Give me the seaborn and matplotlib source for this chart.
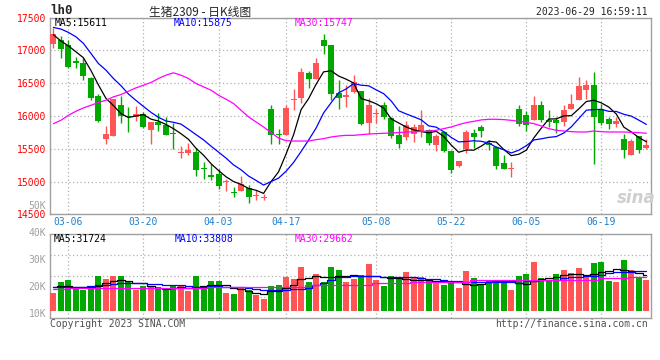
"""
生猪2309 日K线图 (新浪财经样式) 复刻
"""

import numpy as np
import pandas as pd
import matplotlib
matplotlib.use('Agg')
import matplotlib.pyplot as plt
import seaborn as sns


# ---- 数据 ----
HOLIDAYS = ['2023-04-05', '2023-05-01', '2023-05-02', '2023-05-03', '2023-06-22', '2023-06-23']
trade_days = [d for d in pd.bdate_range('2023-03-02', '2023-06-29') if d.strftime('%Y-%m-%d') not in HOLIDAYS]
date_labels = [d.strftime('%m-%d') for d in trade_days]
TICK_DATES = ['03-06', '03-20', '04-03', '04-17', '05-08', '05-22', '06-05', '06-19']

open_price = [17092, 17164, 17082, 16837, 16812, 16582, 16302, 15654, 15695, 16164,
              15996, 15980, 16037, 15782, 15909, 15868, 15746, 15439, 15430, 15450,
              15205, 15093, 15118, 14991, 14838, 14854, 14904, 14772, 14752, 16103,
              15730, 15705, 16241, 16276, 16659, 16572, 17159, 17082, 16353, 16292,
              16368, 16378, 15894, 16037, 16164, 15970, 15715, 15680, 15730, 15756,
              15782, 15552, 15756, 15460, 15231, 15501, 15746, 15827, 15588, 15527,
              15277, 15195, 16103, 16011, 15935, 16174, 15945, 15935, 15909, 16103,
              16241, 16394, 16470, 16113, 15950, 15873, 15654, 15399, 15690, 15511]
close_price = [17250, 17021, 16751, 16812, 16613, 16276, 15919, 15731, 16256, 16001,
               15980, 16037, 15833, 15909, 15858, 15715, 15720, 15449, 15476, 15180,
               15185, 15073, 14925, 15001, 14818, 14966, 14762, 14787, 14762, 15715,
               15715, 16123, 16256, 16674, 16557, 16812, 17072, 16332, 16276, 16317,
               16521, 15883, 16164, 16052, 15985, 15695, 15572, 15858, 15833, 15858,
               15588, 15695, 15465, 15180, 15307, 15756, 15680, 15776, 15562, 15236,
               15190, 15210, 15884, 15868, 16174, 15935, 15909, 15894, 16098, 16190,
               16455, 16470, 15985, 15899, 15873, 15919, 15476, 15613, 15476, 15552]
high_price = [17337, 17225, 17159, 16903, 16878, 16598, 16343, 15843, 16266, 16307,
              16138, 16154, 16062, 15909, 16052, 15985, 15899, 15542, 15593, 15511,
              15297, 15272, 15185, 15042, 14915, 15078, 14940, 14864, 14813, 16174,
              15807, 16174, 16419, 16735, 16684, 16878, 17250, 17082, 16547, 16470,
              16633, 16378, 16276, 16113, 16215, 15985, 15848, 15919, 15883, 16088,
              15807, 15730, 15771, 15460, 15307, 15782, 15807, 15858, 15629, 15542,
              15399, 15297, 16164, 16077, 16302, 16225, 16098, 15985, 16174, 16343,
              16598, 16547, 16664, 16190, 15985, 15985, 15731, 15654, 15695, 15654]
low_price = [17031, 16888, 16725, 16725, 16547, 16241, 15915, 15578, 15695, 15899,
             15756, 15929, 15817, 15578, 15766, 15705, 15501, 15358, 15409, 15083,
             15042, 15016, 14889, 14848, 14762, 14854, 14675, 14721, 14711, 15578,
             15578, 15705, 16088, 16205, 16429, 16562, 16939, 16241, 16113, 16138,
             16358, 15858, 15730, 15899, 15950, 15664, 15511, 15628, 15603, 15680,
             15552, 15465, 15450, 15134, 15220, 15440, 15511, 15680, 15486, 15195,
             15185, 15068, 15848, 15766, 15935, 15909, 15832, 15746, 15848, 16103,
             16241, 16266, 15261, 15858, 15807, 15832, 15358, 15399, 15440, 15491]

ma5 = [17240, 17145, 17070, 16980, 16889, 16695, 16474, 16270, 16159, 16037,
       15977, 16001, 16021, 15952, 15923, 15870, 15807, 15730, 15644, 15508,
       15402, 15273, 15168, 15073, 15000, 14957, 14894, 14867, 14819, 14998,
       15148, 15420, 15714, 16097, 16265, 16484, 16674, 16689, 16610, 16562,
       16504, 16266, 16232, 16187, 16121, 15956, 15894, 15832, 15789, 15763,
       15742, 15766, 15688, 15557, 15447, 15481, 15478, 15540, 15616, 15602,
       15489, 15395, 15416, 15478, 15665, 15814, 15954, 15956, 16002, 16005,
       16109, 16221, 16240, 16200, 16136, 16029, 15830, 15756, 15671, 15607]
ma10 = [17352, 17327, 17276, 17209, 17108, 16955, 16801, 16700, 16572, 16463,
        16336, 16238, 16146, 16056, 15980, 15924, 15904, 15876, 15798, 15716,
        15636, 15540, 15449, 15358, 15254, 15179, 15084, 15017, 14946, 14999,
        15052, 15157, 15291, 15458, 15632, 15816, 16047, 16202, 16353, 16413,
        16494, 16470, 16461, 16399, 16341, 16230, 16080, 16032, 15988, 15942,
        15849, 15830, 15760, 15673, 15605, 15611, 15622, 15614, 15587, 15525,
        15485, 15436, 15478, 15547, 15634, 15652, 15674, 15686, 15740, 15835,
        15962, 16088, 16098, 16101, 16071, 16069, 16026, 15998, 15936, 15872]
ma30 = [15883, 15934, 16011, 16072, 16123, 16164, 16205, 16241, 16292, 16327,
        16378, 16429, 16470, 16511, 16572, 16623, 16659, 16623, 16572, 16496,
        16445, 16394, 16317, 16256, 16190, 16088, 15986, 15909, 15833, 15746,
        15664, 15623, 15618, 15618, 15618, 15639, 15654, 15680, 15695, 15705,
        15705, 15715, 15725, 15731, 15736, 15741, 15746, 15756, 15756, 15766,
        15771, 15782, 15807, 15833, 15868, 15899, 15919, 15940, 15950, 15950,
        15945, 15934, 15919, 15904, 15883, 15848, 15807, 15782, 15771, 15761,
        15756, 15756, 15771, 15761, 15756, 15756, 15756, 15751, 15746, 15736]

volume = [17700, 21770, 22510, 19560, 18950, 19440, 23990, 22880, 23990, 23990,
          22270, 18820, 20300, 20300, 20050, 18950, 20300, 20540, 18450, 23990,
          20050, 22270, 22270, 17720, 17350, 19560, 18700, 16980, 15620, 20300,
          20540, 23620, 22880, 27310, 21770, 24730, 21770, 27310, 26200, 21770,
          22880, 24360, 28420, 22510, 20300, 23990, 23620, 25460, 23250, 23500,
          22140, 21770, 20670, 21410, 19560, 25830, 23250, 21040, 22140, 21770,
          22140, 18820, 23990, 24730, 29150, 23250, 22510, 24730, 26200, 25100,
          26940, 24360, 28790, 29150, 22140, 21770, 29890, 26200, 23250, 22510]
vol_ma5 = [20050, 20300, 20300, 20050, 19810, 20050, 20300, 21410, 22270, 22640,
           22270, 21530, 21280, 20420, 19560, 19190, 19560, 19810, 19560, 19810,
           20300, 20790, 20670, 20670, 19560, 19310, 18580, 17590, 17350, 18330,
           18330, 19410, 20590, 22930, 23220, 24060, 23690, 23500, 23990, 23870,
           24230, 23870, 23870, 23870, 23500, 23250, 23250, 22760, 22390, 22390,
           22640, 22270, 22020, 21770, 21650, 21040, 20540, 21040, 21770, 22020,
           22020, 22020, 21410, 21040, 22020, 22880, 23250, 23620, 24230, 24730,
           24730, 24480, 24730, 25460, 25960, 26450, 26200, 25710, 25100, 24480]
vol_ma10 = [19810, 19810, 19810, 19810, 19810, 20180, 20540, 20790, 21040, 21530,
            21410, 21280, 21280, 21160, 21040, 20540, 20540, 20540, 20180, 20050,
            20050, 20300, 20300, 20050, 19810, 19810, 19560, 19070, 18820, 18820,
            18820, 18820, 19070, 19310, 19560, 20730, 21550, 22590, 23640, 23790,
            23870, 23990, 23990, 23870, 23740, 23500, 23500, 23500, 23500, 23250,
            23000, 23000, 22640, 22020, 22020, 21770, 21650, 21650, 21650, 21650,
            21650, 21650, 21410, 22020, 22270, 22510, 22390, 22390, 23250, 23500,
            23500, 23870, 23870, 24480, 25100, 25340, 25460, 25460, 25710, 25710]
vol_ma30 = [19310, 19310, 19440, 19440, 19440, 19440, 19560, 19560, 19560, 19560,
            19560, 19560, 19560, 19560, 19560, 19560, 19560, 19560, 19560, 19560,
            19560, 19810, 19810, 19810, 19810, 19810, 19810, 19810, 19810, 19810,
            19810, 19810, 19810, 19810, 20540, 20540, 20540, 20540, 20540, 20540,
            20540, 20540, 20540, 21280, 21280, 21280, 21280, 21280, 21770, 21770,
            21770, 21770, 21770, 21770, 21770, 21770, 22390, 22390, 22390, 22390,
            22390, 22390, 22390, 22390, 22390, 22640, 22640, 22640, 22640, 22640,
            22640, 22640, 22640, 23250, 23250, 23250, 23250, 23500, 23500, 23500]

PRICE_TICKS = [14500, 15000, 15500, 16000, 16500, 17000, 17500]
VOL_TICKS = [10000, 20000, 30000, 40000, 50000]
VOL_LIM = (8500, 39500)
VOL_BASE = 11200

MA_TEXT = ['MA5:15611', 'MA10:15875', 'MA30:15747']
VOL_MA_TEXT = ['MA5:31724', 'MA10:33808', 'MA30:29662']


# ---- 样式 ----
RED = '#ff5555'
GREEN = '#00a800'
MA_COLORS = ['#000000', '#0000ff', '#ff00ff']
GRID = '#b0b0b0'
FRAME = '#a0a0a0'
MONO = 'DejaVu Sans Mono'
W, H = 660, 360

sns.set_style('white')
plt.rcParams['font.family'] = ['Noto Sans CJK SC', 'DejaVu Sans']


def px_box(x0, y0, x1, y1):
    return [x0 / W, 1 - y1 / H, (x1 - x0) / W, (y1 - y0) / H]


def style_frame(ax):
    for s in ax.spines.values():
        s.set_color(FRAME)
        s.set_linewidth(1)
    ax.grid(True, color=GRID, linestyle=(0, (1, 2)), linewidth=0.9)
    ax.set_axisbelow(True)


fig = plt.figure(figsize=(W / 100, H / 100), dpi=100)
ax = fig.add_axes(px_box(50, 17.7, 650.5, 214.3))
axv = fig.add_axes(px_box(50, 234, 650.5, 318))

x = np.arange(len(close_price))
o = np.array(open_price)
c = np.array(close_price)
colors = np.where(c >= o, RED, GREEN)

# K线
ax.vlines(x, low_price, high_price, colors=colors, linewidth=1, zorder=3)
ax.bar(x, np.maximum(np.abs(c - o), 16), bottom=np.minimum(o, c), width=0.8,
       color=colors, linewidth=0, zorder=3)
for ma, col in zip([ma5, ma10, ma30], MA_COLORS):
    sns.lineplot(x=x, y=ma, ax=ax, color=col, linewidth=0.9, zorder=4)

ax.set_xlim(-0.45, len(x) - 0.45)
ax.set_ylim(PRICE_TICKS[0], PRICE_TICKS[-1])
tick_idx = [date_labels.index(d) for d in TICK_DATES]
ax.set_xticks(tick_idx)
ax.set_xticklabels(TICK_DATES, color='#2080cc', fontsize=7, family=MONO)
ax.set_yticks(PRICE_TICKS)
ax.set_yticklabels([str(v) for v in PRICE_TICKS], color='#ff0000', fontsize=7, family=MONO)
ax.tick_params(axis='x', length=0, pad=2)
ax.tick_params(axis='y', length=2, color='#ff0000', width=1, pad=1)
style_frame(ax)

# 成交量
axv.bar(x, np.array(volume) - VOL_BASE, bottom=VOL_BASE, width=0.8,
        color=colors, linewidth=0, zorder=3)
for ma, col in zip([vol_ma5, vol_ma10, vol_ma30], MA_COLORS):
    sns.lineplot(x=x, y=ma, ax=axv, color=col, linewidth=0.9, drawstyle='steps-mid', zorder=4)
axv.set_xlim(ax.get_xlim())
axv.set_ylim(VOL_LIM)
axv.set_xticks(tick_idx)
axv.set_xticklabels([])
axv.set_yticks(np.linspace(VOL_LIM[0], VOL_LIM[1], 5)[1:-1])
axv.set_yticklabels([])
axv.tick_params(length=0)
style_frame(axv)
for v in VOL_TICKS:
    axv.text(-0.006, v, f'{v // 1000}K', transform=axv.get_yaxis_transform(),
             ha='right', va='center', color='#a0a0a0', fontsize=7, family=MONO, clip_on=False)

for a in (ax, axv):
    a.set_xlabel('')
    a.set_ylabel('')

# 文字
fig.text(50 / W, 1 - 11 / H, 'lh0', fontsize=9, weight='bold', family=MONO, va='center')
fig.text(200 / W, 1 - 12 / H, '生猪2309 - 日K线图', fontsize=8.5, ha='center', va='center',
         family=['Noto Sans CJK SC', 'DejaVu Sans'])
fig.text(648 / W, 1 - 12 / H, '2023-06-29 16:59:11', fontsize=7, ha='right', va='center', family=MONO)
for txt, col, px in zip(MA_TEXT, MA_COLORS, [55, 174, 295]):
    fig.text(px / W, 1 - 23.5 / H, txt, color=col, fontsize=7, va='center', family=MONO)
for txt, col, px in zip(VOL_MA_TEXT, MA_COLORS, [54, 175, 295]):
    fig.text(px / W, 1 - 239 / H, txt, color=col, fontsize=7, va='center', family=MONO)
fig.text(50 / W, 1 - 324 / H, 'Copyright 2023 SINA.COM', color='#505050', fontsize=7, va='center', family=MONO)
fig.text(648 / W, 1 - 324 / H, 'http://finance.sina.com.cn', color='#505050', fontsize=7,
         ha='right', va='center', family=MONO)
fig.text(636 / W, 1 - 198 / H, 'sina', color='#cfcfcf', fontsize=12, style='italic', weight='bold',
         ha='center', va='center', family='DejaVu Sans')

fig.savefig('out.png', dpi=100)
plt.close(fig)
